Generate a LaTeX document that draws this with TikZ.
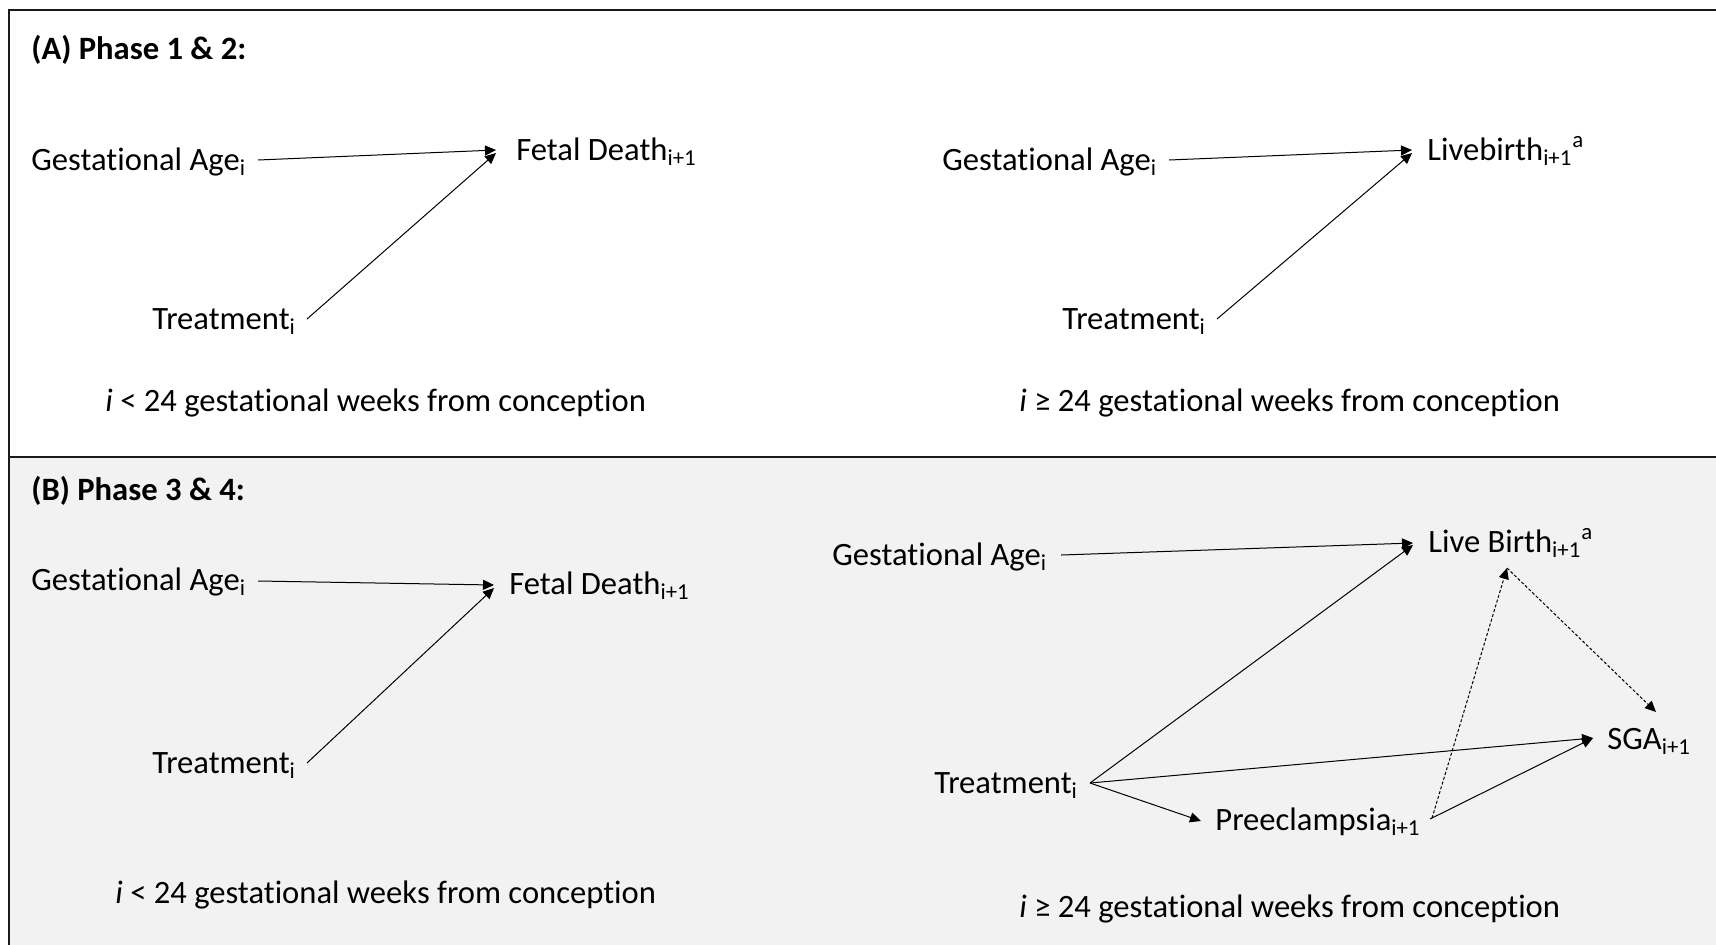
\documentclass[tikz,border=0pt]{standalone}
\usepackage{fontspec}
\setmainfont{Carlito}[Ligatures=NoCommon]
\usetikzlibrary{arrows.meta}
\definecolor{panelgray}{HTML}{F2F2F2}
\definecolor{framecol}{HTML}{1A1A1A}
\begin{document}
\begin{tikzpicture}[x=0.5pt,y=-0.5pt,
  lbl/.style={anchor=base west, inner sep=0pt, font=\fontsize{16.3}{19}\selectfont},
  ttl/.style={anchor=base west, inner sep=0pt, font=\fontsize{16.3}{19}\selectfont\bfseries},
  arr/.style={line width=0.5pt, -{Triangle[length=5.5pt,width=5pt]}},
  darr/.style={arr, dash pattern=on 1.5pt off 1pt}]
\useasboundingbox (0,0) rectangle (1716,944);
\begin{scope}
  \clip (0,0) rectangle (1716,944);
  \fill[panelgray] (9,457) rectangle (1740,960);
  \draw[framecol, line width=1pt] (9,10) rectangle (1740,960);
  \draw[framecol, line width=1pt] (9,457) -- (1740,457);
\end{scope}

% ---------- Panel A ----------
\node[ttl] (titleA) at (31,59) {(A) Phase 1 \& 2:};
\node[lbl] (gaA) at (31,170) {Gestational Age\textsubscript{i}};
\node[lbl] (fdA) at (516,160) {Fetal Death\textsubscript{i+1}};
\node[lbl] (trA) at (152,329) {Treatment\textsubscript{i}};
\node[lbl] (capA1) at (105,411) {\textit{i} < 24 gestational weeks from conception};
\draw[arr] ([shift={(227,-10)}]gaA.base west) -- ([shift={(-20,-10)}]fdA.base west);
\draw[arr] ([shift={(155,-10)}]trA.base west) -- ([shift={(-20,-7)}]fdA.base west);

\node[lbl] (gaA2) at (942,170) {Gestational Age\textsubscript{i}};
\node[lbl] (lbA) at (1427,160) {Livebirth\textsubscript{i+1}\textsuperscript{a}};
\node[lbl] (trA2) at (1062,329) {Treatment\textsubscript{i}};
\node[lbl] (capA2) at (1019,411) {\textit{i} ≥ 24 gestational weeks from conception};
\draw[arr] ([shift={(227,-10)}]gaA2.base west) -- ([shift={(-15,-10)}]lbA.base west);
\draw[arr] ([shift={(155,-10)}]trA2.base west) -- ([shift={(-15,-7)}]lbA.base west);

% ---------- Panel B ----------
\node[ttl] (titleB) at (31,500) {(B) Phase 3 \& 4:};
\node[lbl] (gaB) at (31,590) {Gestational Age\textsubscript{i}};
\node[lbl] (fdB) at (509,594) {Fetal Death\textsubscript{i+1}};
\node[lbl] (trB) at (152,773) {Treatment\textsubscript{i}};
\node[lbl] (capB1) at (115,903) {\textit{i} < 24 gestational weeks from conception};
\draw[arr] ([shift={(227,-9)}]gaB.base west) -- ([shift={(-15,-9)}]fdB.base west);
\draw[arr] ([shift={(155,-10)}]trB.base west) -- ([shift={(-15,-6)}]fdB.base west);

\node[lbl] (gaB2) at (832,565) {Gestational Age\textsubscript{i}};
\node[lbl] (lbB) at (1428,552) {Live Birth\textsubscript{i+1}\textsuperscript{a}};
\node[lbl] (trB2) at (934,793) {Treatment\textsubscript{i}};
\node[lbl] (sga) at (1607,749) {SGA\textsubscript{i+1}};
\node[lbl] (pre) at (1215,830) {Preeclampsia\textsubscript{i+1}};
\node[lbl] (capB2) at (1019,917) {\textit{i} ≥ 24 gestational weeks from conception};
\draw[arr] ([shift={(229,-10)}]gaB2.base west) -- ([shift={(-15,-9)}]lbB.base west);
\draw[arr] ([shift={(156,-10)}]trB2.base west) -- ([shift={(-15,-7)}]lbB.base west);
\draw[arr] ([shift={(156,-10)}]trB2.base west) -- ([shift={(-14,-11)}]sga.base west);
\draw[arr] ([shift={(156,-10)}]trB2.base west) -- ([shift={(-14,-9)}]pre.base west);
\draw[arr] ([shift={(215,-11)}]pre.base west) -- ([shift={(-14,-11)}]sga.base west);
\draw[darr] ([shift={(217,-12)}]pre.base west) -- ([shift={(79,16)}]lbB.base west);
\draw[darr] ([shift={(79,16)}]lbB.base west) -- ([shift={(49,-37)}]sga.base west);
\end{tikzpicture}
\end{document}
